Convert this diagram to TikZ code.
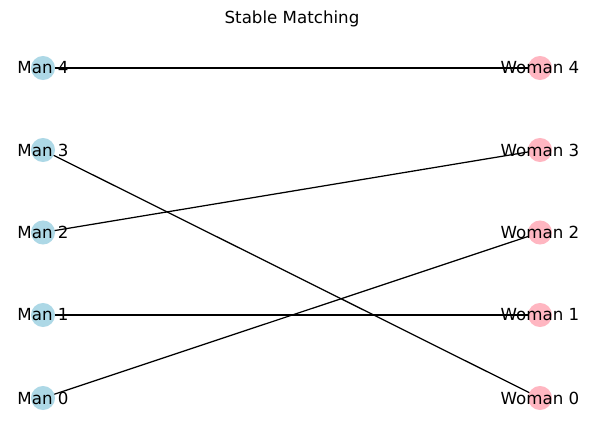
\documentclass[tikz,border=0pt]{standalone}
\usepackage{fontspec}
\setmainfont{DejaVu Sans}
\usetikzlibrary{backgrounds}
\definecolor{manblue}{RGB}{173,216,230}
\definecolor{womanpink}{RGB}{255,182,193}
\begin{document}
\begin{tikzpicture}[x=0.72pt,y=-0.72pt,
  man/.style={circle, fill=manblue, minimum size=17.3pt, inner sep=0pt},
  woman/.style={circle, fill=womanpink, minimum size=17.3pt, inner sep=0pt},
  match/.style={black, line width=0.9pt}]
\useasboundingbox (0,0) rectangle (592,438);
\node[font=\fontsize{12}{14}\selectfont] (title) at (292,19) {Stable Matching};

% left column
\node[man, label={[font=\fontsize{12}{14}\selectfont]center:Man 4}] (m4) at (43,68) {};
\node[man, label={[font=\fontsize{12}{14}\selectfont]center:Man 3}] (m3) at (43,150) {};
\node[man, label={[font=\fontsize{12}{14}\selectfont]center:Man 2}] (m2) at (43,232.5) {};
\node[man, label={[font=\fontsize{12}{14}\selectfont]center:Man 1}] (m1) at (43,315) {};
\node[man, label={[font=\fontsize{12}{14}\selectfont]center:Man 0}] (m0) at (43,398) {};
% right column
\node[woman, label={[font=\fontsize{12}{14}\selectfont]center:Woman 4}] (w4) at (540,68) {};
\node[woman, label={[font=\fontsize{12}{14}\selectfont]center:Woman 3}] (w3) at (540,150) {};
\node[woman, label={[font=\fontsize{12}{14}\selectfont]center:Woman 2}] (w2) at (540,232.5) {};
\node[woman, label={[font=\fontsize{12}{14}\selectfont]center:Woman 1}] (w1) at (540,315) {};
\node[woman, label={[font=\fontsize{12}{14}\selectfont]center:Woman 0}] (w0) at (540,398) {};

% matching
\begin{pgfonlayer}{background}
\draw[match] (m4.center) -- (w4.center);
\draw[match] (m3.center) -- (w0.center);
\draw[match] (m2.center) -- (w3.center);
\draw[match] (m1.center) -- (w1.center);
\draw[match] (m0.center) -- (w2.center);
\end{pgfonlayer}
\end{tikzpicture}
\end{document}
